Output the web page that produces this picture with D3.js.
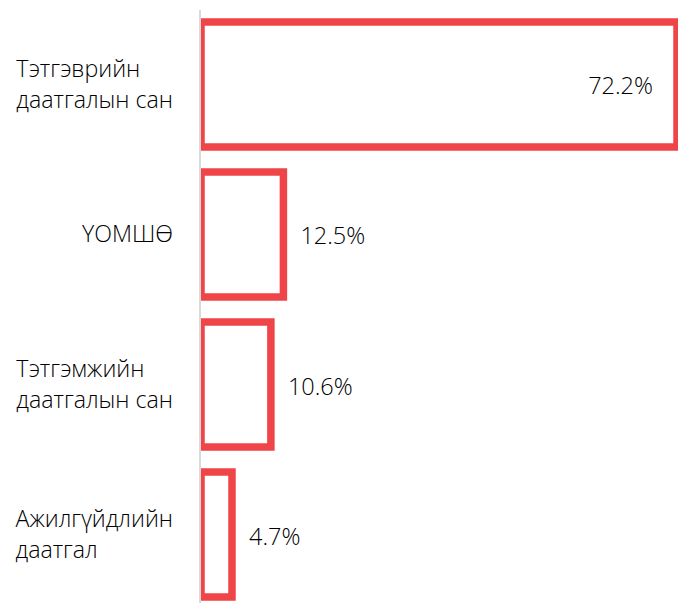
<!DOCTYPE html>
<html>
<head>
<meta charset="utf-8">
<script src="https://cdn.jsdelivr.net/npm/d3@7"></script>
<style>
  html, body { margin: 0; padding: 0; background: #fff; }
  svg { display: block; font-family: "Open Sans", sans-serif; }
</style>
</head>
<body>
<div id="bar_chart"></div>
<script>
// categories split into display lines, and their shares (%)
var categories = [
    ["Тэтгэврийн", "даатгалын сан"],
    ["ҮОМШӨ"],
    ["Тэтгэмжийн", "даатгалын сан"],
    ["Ажилгүйдлийн", "даатгал"]
];
var shares = [72.2, 12.5, 10.6, 4.7];
var valueLabels = ["72.2%", "12.5%", "10.6%", "4.7%"];

plot_bar_graph("#bar_chart", 678, 603);

function plot_bar_graph(htmlObjectId, width, height) {

    var axisX = 201,
        labelRight = 173;

    var data = categories.map(function(c, i) {
        return {key: i, lines: c, value: shares[i], label: valueLabels[i]};
    });

    // horizontal value scale, zero at the axis line
    var xScale = d3.scaleLinear()
        .domain([0, d3.max(shares)])
        .range([axisX, 677]);

    // band scale for the categories
    var yScale = d3.scaleBand()
        .domain(data.map(function(d) { return d.key; }))
        .range([9.5, 609.5])
        .paddingInner(0.1667)
        .paddingOuter(0.0833);

    var canvas = d3.select(htmlObjectId)
        .append("svg")
        .attr("width", width)
        .attr("height", height);

    canvas.append("clipPath")
        .attr("id", "plotClip")
      .append("rect")
        .attr("x", axisX)
        .attr("y", 0)
        .attr("width", width - axisX)
        .attr("height", height);

    // bars: white fill with thick red outline
    canvas.append("g")
        .attr("clip-path", "url(#plotClip)")
      .selectAll("rect")
        .data(data)
      .enter().append("rect")
        .attr("x", xScale(0))
        .attr("y", function(d) { return yScale(d.key); })
        .attr("width", function(d) { return xScale(d.value) - xScale(0); })
        .attr("height", yScale.bandwidth())
        .attr("fill", "#ffffff")
        .attr("stroke", "#f04548")
        .attr("stroke-width", 7.5);

    // vertical axis line
    canvas.append("line")
        .attr("x1", axisX - 1)
        .attr("x2", axisX - 1)
        .attr("y1", 10)
        .attr("y2", height)
        .attr("stroke", "#d9d9d9")
        .attr("stroke-width", 2);

    // value labels: inside end for the biggest bar, outside end for others
    var maxVal = d3.max(shares);
    canvas.selectAll(".value")
        .data(data)
      .enter().append("text")
        .attr("class", "value")
        .attr("x", function(d) {
            return d.value === maxVal ? xScale(d.value) - 24 : xScale(d.value) + 17;
        })
        .attr("y", function(d) { return yScale(d.key) + yScale.bandwidth() / 2 + 10; })
        .attr("text-anchor", function(d) { return d.value === maxVal ? "end" : "start"; })
        .style("font-size", "23.5px")
        .style("font-weight", 300)
        .style("fill", "#000000")
        .text(function(d) { return d.label; });

    // category labels: block right aligned, lines left aligned
    var lineGap = 31;
    var groups = canvas.selectAll(".cat")
        .data(data)
      .enter().append("text")
        .attr("class", "cat")
        .style("font-size", "23.2px")
        .style("font-weight", 300)
        .style("fill", "#000000");

    groups.each(function(d) {
        var t = d3.select(this);
        var cy = yScale(d.key) + yScale.bandwidth() / 2;
        var firstBase = cy + 8 - (d.lines.length - 1) * lineGap / 2;
        d.lines.forEach(function(line, j) {
            t.append("tspan")
                .attr("y", firstBase + j * lineGap)
                .text(line);
        });
        var w = 0;
        t.selectAll("tspan").each(function() {
            w = Math.max(w, this.getComputedTextLength());
        });
        t.selectAll("tspan").attr("x", labelRight - w);
    });
}
</script>
</body>
</html>
